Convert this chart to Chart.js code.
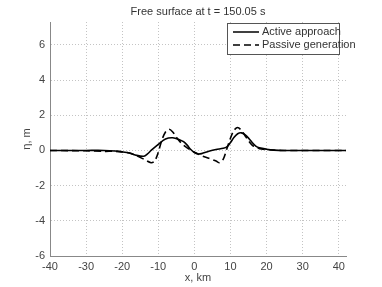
<!DOCTYPE html>
<html><head><meta charset="utf-8">
<script src="https://cdn.jsdelivr.net/npm/chart.js@4/dist/chart.umd.min.js"></script>
<style>html,body{margin:0;padding:0;background:#fff}#w{width:382px;height:287px}</style>
</head><body><div id="w"><canvas id="c"></canvas></div>
<script>
const titleText = 'Free surface at t = 150.05 s';
const xLabel = 'x, km';
const yLabel = 'η, m';
const seriesNames = ['Active approach', 'Passive generation'];
const xTicks = [-40, -30, -20, -10, 0, 10, 20, 30, 40];
const yTicks = [-6, -4, -2, 0, 2, 4, 6];

const activeX = [-40,-30,-25,-22,-20,-18,-16,-14,-13,-12,-10,-8,-6,-4,-3,-2,-1,0,1,2,4,6,8,9,10,11,12,13,14,15,16,17,18,20,22,25,42];
const activeY = [0,0,0,-0.03,-0.08,-0.15,-0.28,-0.33,-0.2,0,0.35,0.65,0.72,0.6,0.5,0.3,0.05,-0.12,-0.2,-0.18,-0.05,0.05,0.12,0.2,0.45,0.75,0.95,1.0,0.9,0.7,0.45,0.25,0.15,0.07,0.02,0,0];

const passiveX = [-40,-30,-25,-22,-20,-18,-16,-14,-12,-11,-10,-9,-8,-7,-6,-5,-4,-3,-2,-1,0,2,4,6,7,8,9,10,11,12,13,14,15,16,17,18,20,22,24,42];
const passiveY = [0,-0.02,-0.05,-0.05,-0.08,-0.15,-0.3,-0.5,-0.7,-0.6,-0.1,0.6,1.05,1.2,1.05,0.75,0.5,0.3,0.15,0.02,-0.1,-0.3,-0.45,-0.6,-0.7,-0.5,0.1,0.7,1.15,1.3,1.15,0.85,0.55,0.3,0.18,0.1,0.05,0.02,0,0];

const toPts = (xs, ys) => xs.map((x, i) => ({x, y: ys[i]}));
const FONT = "'Liberation Sans', Arial, sans-serif";

const overlay = {
  id: 'overlay',
  afterDraw(chart) {
    const ctx = chart.ctx, a = chart.chartArea;
    ctx.save();
    ctx.fillStyle = '#333';
    ctx.font = '11px ' + FONT;
    ctx.textAlign = 'center';
    ctx.textBaseline = 'middle';
    ctx.fillText(titleText, (a.left + a.right) / 2, 12);
    // legend
    const bx = 227, by = 23, bw = 112, bh = 31;
    ctx.fillStyle = '#fff';
    ctx.fillRect(bx, by, bw, bh);
    ctx.strokeStyle = '#555';
    ctx.lineWidth = 1;
    ctx.strokeRect(bx + 0.5, by + 0.5, bw, bh);
    chart.data.datasets.forEach((ds, i) => {
      const ly = by + 9 + i * 13;
      ctx.beginPath();
      ctx.setLineDash(ds.borderDash || []);
      ctx.lineWidth = 1.5;
      ctx.strokeStyle = '#000';
      ctx.moveTo(bx + 6, ly); ctx.lineTo(bx + 32, ly);
      ctx.stroke();
      ctx.setLineDash([]);
      ctx.fillStyle = '#333';
      ctx.textAlign = 'left';
      ctx.fillText(ds.label, bx + 35, ly);
    });
    ctx.restore();
  }
};

new Chart(document.getElementById('c'), {
  type: 'line',
  data: {
    datasets: [
      {label: seriesNames[0], data: toPts(activeX, activeY), borderColor: '#000', borderWidth: 1.6, pointRadius: 0, tension: 0.3, fill: false},
      {label: seriesNames[1], data: toPts(passiveX, passiveY), borderColor: '#000', borderWidth: 1.6, borderDash: [7, 4], pointRadius: 0, tension: 0.3, fill: false}
    ]
  },
  options: {
    responsive: true,
    maintainAspectRatio: false,
    animation: false,
    layout: {padding: {top: 22, right: 36, left: 20, bottom: 0}},
    plugins: {legend: {display: false}, title: {display: false}, tooltip: {enabled: false}},
    scales: {
      x: {
        type: 'linear', min: -40, max: 42,
        afterBuildTicks: s => { s.ticks = xTicks.map(v => ({value: v})); },
        afterFit: s => { s.height = 31; },
        grid: {color: '#c4c4c4', lineWidth: 1, drawTicks: false},
        border: {display: true, color: '#888', width: 1, dash: [1, 2]},
        ticks: {color: '#444', font: {size: 11, family: FONT}, padding: 4, maxRotation: 0},
        title: {display: true, text: xLabel, color: '#444', font: {size: 11, family: FONT}, padding: {top: 0, bottom: 2}}
      },
      y: {
        type: 'linear', min: -6, max: 7.3,
        afterBuildTicks: s => { s.ticks = yTicks.map(v => ({value: v})); },
        afterFit: s => { s.width = 30; },
        grid: {color: '#c4c4c4', lineWidth: 1, drawTicks: false},
        border: {display: true, color: '#888', width: 1, dash: [1, 2]},
        ticks: {color: '#444', font: {size: 11, family: FONT}, padding: 5},
        title: {display: true, text: yLabel, color: '#444', font: {size: 11, family: FONT}, padding: {top: 0, bottom: 0}}
      }
    }
  },
  plugins: [overlay]
});
</script></body></html>
